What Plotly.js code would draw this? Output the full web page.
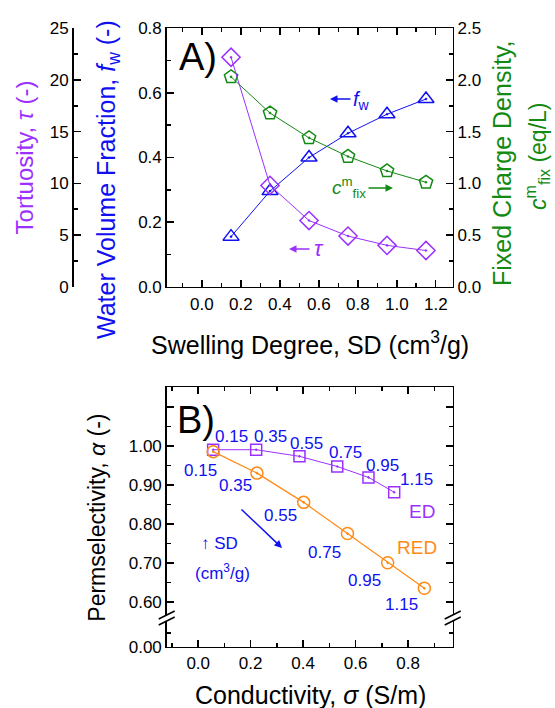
<!DOCTYPE html>
<html><head><meta charset="utf-8">
<script src="https://cdn.plot.ly/plotly-3.0.1.min.js"></script>
<style>html,body{margin:0;padding:0;background:#fff}</style>
</head><body>
<div id="chart" style="width:555px;height:708px"></div>
<script>
// ---- Panel A data ----
const swellingDegree = [0.15, 0.35, 0.55, 0.75, 0.95, 1.15];
const waterFraction = [0.155, 0.296, 0.40, 0.475, 0.534, 0.581];
const tortuosity = [22.2, 9.8, 6.4, 4.9, 4.0, 3.5];
const fixedCharge = [2.03, 1.68, 1.44, 1.26, 1.12, 1.01];
const sdTickVals = [0, 0.2, 0.4, 0.6, 0.8, 1.0, 1.2];
const sdTickText = ['0.0', '0.2', '0.4', '0.6', '0.8', '1.0', '1.2'];
// ---- Panel B data ----
const sdLabels = ["0.15", "0.35", "0.55", "0.75", "0.95", "1.15"];
const edConductivity = [0.057, 0.221, 0.386, 0.530, 0.649, 0.747];
const edPermselectivity = [0.990, 0.990, 0.973, 0.947, 0.919, 0.881];
const redConductivity = [0.057, 0.224, 0.402, 0.569, 0.722, 0.862];
const redPermselectivity = [0.985, 0.930, 0.855, 0.775, 0.700, 0.635];
const condTickVals = [0, 0.2, 0.4, 0.6, 0.8];
// broken permselectivity axis: the bottom stub below the break stands for 0.00
const permTickVals = [0.485, 0.6, 0.7, 0.8, 0.9, 1.0, 1.1];
const permTickText = ['0.00', '0.60', '0.70', '0.80', '0.90', '1.00', ''];
const permMinorVals = [0.52, 0.65, 0.75, 0.85, 0.95, 1.05];

const PURPLE = '#9B30FF', BLUE = '#1010F0', GREEN = '#138A13', ORANGE = '#FF8A14';
const FONT = 'Liberation Sans, Arial, sans-serif';
const W = 555, H = 708;
const px = v => v / W, py = v => 1 - v / H;

const xDom = [px(166.7), px(452.7)];
const yTopDom = [py(286.7), py(28.3)];
const yBotDom = [py(646.7), py(387.3)];
const sdRange = [-0.18, 1.287];
const sdToPaper = v => xDom[0] + (v - sdRange[0]) / (sdRange[1] - sdRange[0]) * (xDom[1] - xDom[0]);

const axBase = {
  showline: true, linecolor: '#000', linewidth: 1.5, ticks: 'inside', ticklen: 7, tickwidth: 1.5,
  tickcolor: '#000', showgrid: false, zeroline: false, tickfont: {family: FONT, size: 17, color: '#000'},
  minor: {ticks: 'inside', ticklen: 4, tickwidth: 1.5, tickcolor: '#000', showgrid: false}
};
const ax = o => Object.assign({}, JSON.parse(JSON.stringify(axBase)), o);
const mn = o => Object.assign({}, axBase.minor, o);

const traces = [
  {x: swellingDegree, y: waterFraction, xaxis: 'x', yaxis: 'y', mode: 'lines+markers', name: 'fw',
   line: {color: BLUE, width: 1}, marker: {symbol: 'triangle-up-open-dot', size: 14, color: BLUE, line: {width: 1.5, color: BLUE}}},
  {x: swellingDegree, y: tortuosity, xaxis: 'x', yaxis: 'y5', mode: 'lines+markers', name: 'tau',
   line: {color: PURPLE, width: 1}, marker: {symbol: 'diamond-open-dot', size: 14, color: PURPLE, line: {width: 1.5, color: PURPLE}}},
  {x: swellingDegree, y: fixedCharge, xaxis: 'x', yaxis: 'y2', mode: 'lines+markers', name: 'cfix',
   line: {color: GREEN, width: 1}, marker: {symbol: 'pentagon-open-dot', size: 14, color: GREEN, line: {width: 1.5, color: GREEN}}},
  {x: edConductivity, y: edPermselectivity, xaxis: 'x2', yaxis: 'y3', mode: 'lines+markers', name: 'ED',
   line: {color: PURPLE, width: 1}, marker: {symbol: 'square-open-dot', size: 11, color: PURPLE, line: {width: 1.5, color: PURPLE}}},
  {x: redConductivity, y: redPermselectivity, xaxis: 'x2', yaxis: 'y3', mode: 'lines+markers', name: 'RED',
   line: {color: ORANGE, width: 1.2}, marker: {symbol: 'circle-open-dot', size: 12, color: ORANGE, line: {width: 1.5, color: ORANGE}}}
];

const T = (text, x, y, color, size, extra) => Object.assign({
  text, x: px(x), y: py(y), xref: 'paper', yref: 'paper', showarrow: false,
  xanchor: 'center', yanchor: 'middle', font: {family: FONT, size, color}
}, extra || {});
const A = (x1, y1, x0, y0, color) => ({
  text: '', x: px(x1), y: py(y1), xref: 'paper', yref: 'paper', showarrow: true,
  ax: x0 - x1, ay: y0 - y1, arrowhead: 2, arrowsize: 1, arrowwidth: 1.5, arrowcolor: color, standoff: 0, startstandoff: 0
});

const edLabelPos = [[231.7, 437], [270, 437], [306.7, 443], [345, 452], [383, 465], [416.7, 479]];
const redLabelPos = [[200, 470], [235, 485], [280, 515], [324.5, 552], [364.5, 580], [401.7, 604.5]];

const annotations = [
  T('A)', 198, 57, '#000', 38),
  T('<i>f</i><sub>w</sub>', 361, 100, BLUE, 20),
  A(330, 99, 352, 99, BLUE),
  T('<i>c</i><sup>m</sup><sub>fix</sub>', 349, 187, GREEN, 19),
  A(393, 188, 367, 188, GREEN),
  T('<i>τ</i>', 319, 248, PURPLE, 22),
  A(289, 249, 311, 249, PURPLE),
  T('B)', 196, 420, '#000', 38),
  T('ED', 421.7, 511, PURPLE, 19),
  T('RED', 417, 547, ORANGE, 19),
  T('↑ SD', 219, 543, BLUE, 17),
  T('(cm<sup>3</sup>/g)', 222.5, 572, BLUE, 17),
  A(282, 548, 240, 508, BLUE),
  T('Swelling Degree, SD (cm<sup>3</sup>/g)', 310, 343, '#000', 25),
  T('Water Volume Fraction, <i>f</i><sub>w</sub> (-)', 108, 180, BLUE, 25, {textangle: -90}),
  T('Fixed Charge Density,', 502, 164, GREEN, 25, {textangle: -90}),
  T('<i>c</i><sup>m</sup><sub>fix</sub> (eq/L)', 537, 157, GREEN, 23, {textangle: -90}),
  T('Permselectivity, <i>α</i> (-)', 96.7, 518, '#000', 23, {textangle: -90}),
  T('Conductivity, <i>σ</i> (S/m)', 310, 695, '#000', 25)
];
sdLabels.forEach((s, i) => {
  annotations.push(T(s, edLabelPos[i][0], edLabelPos[i][1], BLUE, 17));
  annotations.push(T(s, redLabelPos[i][0], redLabelPos[i][1], BLUE, 17));
});
// swelling-degree tick labels, placed along the x axis range
sdTickVals.forEach((v, i) => annotations.push({
  text: sdTickText[i], x: sdToPaper(v), xref: 'paper', y: py(304), yref: 'paper', showarrow: false,
  xanchor: 'center', yanchor: 'middle', font: {family: FONT, size: 17, color: '#000'}
}));

// axis break marks
const shapes = [];
[166.7, 452.7].forEach(cx => {
  shapes.push({type: 'rect', xref: 'paper', yref: 'paper', x0: px(cx - 3), x1: px(cx + 3), y0: py(621), y1: py(615),
    fillcolor: '#fff', line: {width: 0}});
  [-3, 3].forEach(d => shapes.push({type: 'line', xref: 'paper', yref: 'paper',
    x0: px(cx - 8), y0: py(618 + d + 4), x1: px(cx + 8), y1: py(618 + d - 4), line: {color: '#000', width: 1.5}}));
});

const layout = {
  width: W, height: H, margin: {l: 0, r: 0, t: 0, b: 0}, showlegend: false,
  paper_bgcolor: '#fff', plot_bgcolor: 'rgba(0,0,0,0)', font: {family: FONT, color: '#000'},
  xaxis: ax({domain: xDom, anchor: 'y', range: sdRange, tickvals: sdTickVals, showticklabels: false,
    mirror: 'ticks', minor: mn({dtick: 0.1, tick0: 0})}),
  yaxis: ax({domain: yTopDom, anchor: 'x', range: [0, 0.8], dtick: 0.2, tickformat: '.1f',
    minor: mn({dtick: 0.1})}),
  yaxis2: ax({overlaying: 'y', side: 'right', anchor: 'x', range: [0, 2.5], dtick: 0.5, tickformat: '.1f',
    minor: mn({dtick: 0.25})}),
  yaxis5: ax({overlaying: 'y', side: 'left', anchor: 'free', position: px(72), range: [0, 25], dtick: 5,
    minor: mn({dtick: 2.5}),
    title: {text: 'Tortuosity, <i>τ</i> (-)', font: {family: FONT, size: 24, color: PURPLE}, standoff: 8}}),
  xaxis2: ax({domain: xDom, anchor: 'y3', range: [-0.12, 0.97], tickvals: condTickVals, tickformat: '.1f',
    mirror: 'ticks', minor: mn({dtick: 0.1, tick0: 0})}),
  yaxis3: ax({domain: yBotDom, anchor: 'x2', range: [0.485, 1.15], tickvals: permTickVals,
    ticktext: permTickText, mirror: 'ticks', minor: mn({tickvals: permMinorVals})}),
  annotations, shapes
};

Plotly.newPlot('chart', traces, layout, {displayModeBar: false, staticPlot: true});
</script>
</body></html>
